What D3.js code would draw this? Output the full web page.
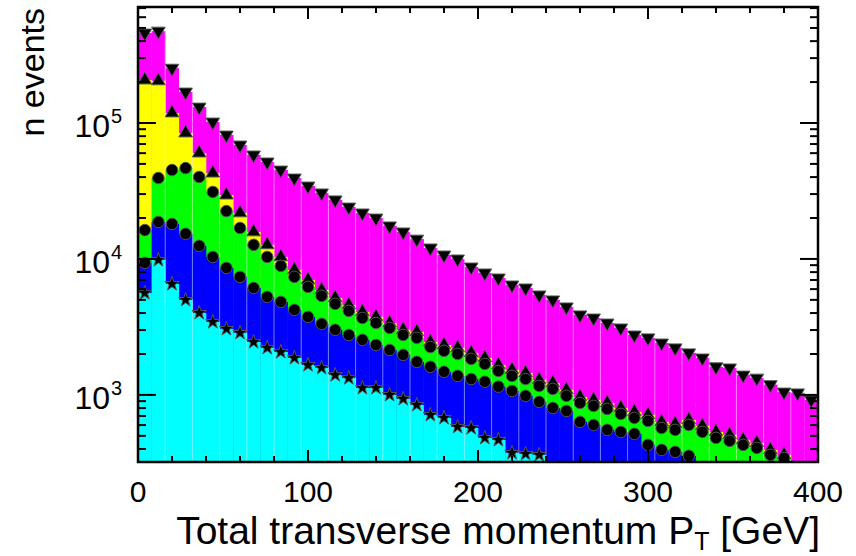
<!DOCTYPE html>
<html>
<head>
<meta charset="utf-8">
<script src="https://cdn.jsdelivr.net/npm/d3@7"></script>
<style>
    body { margin: 0; background: #fff; }
    #chart-area { width: 856px; height: 556px; }
    text { font-family: "Liberation Sans", Arial, Helvetica, sans-serif; fill: #000; }
</style>
</head>
<body>
<div id="chart-area"></div>
<script>
// bins of 8 GeV from 0 to 400
const binWidth = 8;
const binStarts = d3.range(0, 400, binWidth);

// counts per bin (null = below the visible range)
const magentaCounts = [459000, 474000, 253000, 169000, 131000, 101700, 81600, 68900, 58200, 51700,
    45100, 39400, 34400, 30600, 27200, 24100, 21800, 20000, 17500, 15800,
    14000, 12050, 10700, 10000, 8730, 7890, 7250, 6440, 6120, 5440,
    5000, 4440, 3880, 3680, 3380, 3110, 2760, 2630, 2410, 2220,
    2040, 1870, 1610, 1580, 1400, 1330, 1190, 1050, 1035, 920];
const yellowCounts = [207000, 204000, 118500, 84400, 60100, 42800, 29500, 21800, 15800, 12700,
    10350, 8300, 7010, 5920, 5170, 4590, 4080, 3750, 3380, 3010,
    2910, 2450, 2330, 2220, 2040, 1870, 1660, 1530, 1450, 1290,
    1225, 1090, 966, 920, 873, 802, 750, 713, 633, 612,
    655, 592, 534, 508, 467, 444, 394, 362, null, null];
const greenCounts = [16300, 39400, 45100, 46600, 40100, 31100, 22500, 16900, 12700, 10350,
    8890, 7380, 6230, 5350, 4670, 4150, 3680, 3380, 3110, 2760,
    2630, 2250, 2110, 2000, 1840, 1690, 1500, 1380, 1310, 1165,
    1107, 984, 873, 830, 789, 725, 678, 644, 571, 553,
    601, 534, 483, 459, 429, 407, 362, 344, null, null];
const blueCounts = [9350, 18700, 18100, 15300, 12480, 10350, 8590, 7380, 6120, 5260,
    4830, 4220, 3750, 3330, 3010, 2760, 2540, 2330, 2140, 1970,
    1750, 1610, 1480, 1380, 1310, 1250, 1150, 1070, 984, 889,
    802, 762, 633, 601, 553, 534, 517, 429, 394, 381,
    356, null, null, null, null, null, null, null, null, null];
const cyanCounts = [5620, 9840, 6550, 5000, 4010, 3440, 3060, 2860, 2450, 2220,
    2070, 1870, 1660, 1580, 1400, 1330, 1125, 1125, 1000, 935,
    844, 713, 678, 582, 571, 483, 467, 375, 369, 362,
    null, null, null, null, null, null, null, null, null, null,
    null, null, null, null, null, null, null, null, null, null];

// axis labels
const xTickLabels = [0, 100, 200, 300, 400];
const yDecades = [1000, 10000, 100000];
const xTitle = "Total transverse momentum P";
const xTitleSub = "T";
const xTitleUnit = " [GeV]";
const yTitle = "n events";


class PtHistVis {
    constructor(parentElement, series) {
        this.parentElement = parentElement;
        this.series = series;
        this.initVis();
    }

    initVis() {
        let vis = this;

        vis.margin = {top: 7, right: 38, bottom: 94, left: 138};
        vis.width = 856 - vis.margin.left - vis.margin.right;
        vis.height = 556 - vis.margin.top - vis.margin.bottom;

        vis.svg = d3.select("#" + vis.parentElement).append("svg")
            .attr("width", 856)
            .attr("height", 556)
            .append("g")
            .attr("transform", `translate(${vis.margin.left}, ${vis.margin.top})`);

        vis.x = d3.scaleLinear().domain([0, 400]).range([0, vis.width]);
        vis.y = d3.scaleLog().domain([321, 713000]).range([vis.height, 0]);

        vis.svg.append("clipPath").attr("id", "plot-clip")
            .append("rect")
            .attr("width", vis.width)
            .attr("height", vis.height);

        vis.plot = vis.svg.append("g").attr("clip-path", "url(#plot-clip)");

        vis.wrangleData();
    }

    wrangleData() {
        let vis = this;

        // one record per bin and series, skipping empty ones
        vis.bins = vis.series.map(s => ({
            ...s,
            bins: binStarts.map((lo, i) => ({lo: lo, hi: lo + binWidth, value: s.values[i]}))
                .filter(d => d.value !== null)
        }));

        vis.updateVis();
    }

    updateVis() {
        let vis = this;

        // filled histograms, largest first
        vis.bins.forEach(s => {
            vis.plot.append("g")
                .selectAll("rect")
                .data(s.bins)
                .enter().append("rect")
                .attr("x", d => vis.x(d.lo))
                .attr("width", d => vis.x(d.hi) - vis.x(d.lo) + 0.3)
                .attr("y", d => vis.y(d.value))
                .attr("height", d => vis.height - vis.y(d.value))
                .attr("fill", s.color);
        });

        // faint light seams in the fill
        vis.plot.append("g")
            .selectAll("line")
            .data(d3.range(16, 400, 16))
            .enter().append("line")
            .attr("x1", d => vis.x(d))
            .attr("x2", d => vis.x(d))
            .attr("y1", 0)
            .attr("y2", vis.height)
            .attr("stroke", "#fff")
            .attr("stroke-opacity", 0.45)
            .attr("stroke-width", 1);

        // markers at bin centres
        vis.bins.forEach(s => {
            let symbol = d3.symbol().type(s.symbol).size(s.size);
            vis.plot.append("g")
                .selectAll("path")
                .data(s.bins)
                .enter().append("path")
                .attr("d", symbol)
                .attr("transform", d => `translate(${vis.x((d.lo + d.hi) / 2)}, ${vis.y(d.value)}) rotate(${s.rotate})`)
                .attr("fill", "#000")
                .attr("stroke", "#555")
                .attr("stroke-width", 1);
        });

        vis.drawAxes();
    }

    drawAxes() {
        let vis = this;
        let axes = vis.svg.append("g").attr("class", "axes");

        // x ticks, inward on bottom and top
        let xMinor = d3.range(0, 401, 20);
        xMinor.forEach(v => {
            let len = v % 100 === 0 ? 12 : 6;
            let px = vis.x(v);
            axes.append("line").attr("x1", px).attr("x2", px)
                .attr("y1", vis.height).attr("y2", vis.height - len)
                .attr("stroke", "#000").attr("stroke-width", 2);
            axes.append("line").attr("x1", px).attr("x2", px)
                .attr("y1", 0).attr("y2", len)
                .attr("stroke", "#000").attr("stroke-width", 2);
        });

        // y ticks, inward on left and right
        let [lo, hi] = vis.y.domain();
        let yTicks = [];
        [100, 1000, 10000, 100000].forEach(dec => {
            for (let m = 1; m <= 9; m++) {
                let v = dec * m;
                if (v >= lo && v <= hi) yTicks.push({v: v, major: m === 1});
            }
        });
        yTicks.forEach(t => {
            let len = t.major ? 18 : 8;
            let py = vis.y(t.v);
            axes.append("line").attr("x1", 0).attr("x2", len)
                .attr("y1", py).attr("y2", py)
                .attr("stroke", "#000").attr("stroke-width", 2);
            axes.append("line").attr("x1", vis.width).attr("x2", vis.width - len)
                .attr("y1", py).attr("y2", py)
                .attr("stroke", "#000").attr("stroke-width", 2);
        });

        // frame
        axes.append("rect")
            .attr("width", vis.width)
            .attr("height", vis.height)
            .attr("fill", "none")
            .attr("stroke", "#000")
            .attr("stroke-width", 2.5);

        // x tick labels
        axes.selectAll(".x-label")
            .data(xTickLabels)
            .enter().append("text")
            .attr("class", "x-label")
            .attr("x", d => vis.x(d))
            .attr("y", vis.height + 40)
            .attr("text-anchor", "middle")
            .style("font-size", "30px")
            .text(d => d);

        // y tick labels as 10^n
        yDecades.forEach(d => {
            let g = axes.append("g")
                .attr("transform", `translate(-28, ${vis.y(d) + 14})`);
            g.append("text")
                .attr("text-anchor", "end")
                .style("font-size", "32px")
                .text("10");
            g.append("text")
                .attr("x", 1)
                .attr("y", -14)
                .style("font-size", "20px")
                .text(Math.round(Math.log10(d)));
        });

        // x title
        let xt = axes.append("text")
            .attr("x", vis.width + 2)
            .attr("y", vis.height + 82)
            .attr("text-anchor", "end")
            .style("font-size", "39px");
        xt.append("tspan").text(xTitle);
        xt.append("tspan").attr("dy", 6).style("font-size", "25px").text(xTitleSub);
        xt.append("tspan").attr("dy", -6).text(xTitleUnit);

        // y title
        axes.append("text")
            .attr("transform", `translate(${-94}, 1) rotate(-90)`)
            .attr("text-anchor", "end")
            .style("font-size", "34px")
            .text(yTitle);
    }
}

let histSeries = [
    {name: "all", values: magentaCounts, color: "#ff00ff", symbol: d3.symbolTriangle, rotate: 180, size: 80},
    {name: "yellow", values: yellowCounts, color: "#ffff00", symbol: d3.symbolTriangle, rotate: 0, size: 80},
    {name: "green", values: greenCounts, color: "#00ff00", symbol: d3.symbolCircle, rotate: 0, size: 105},
    {name: "blue", values: blueCounts, color: "#0000ff", symbol: d3.symbolCircle, rotate: 0, size: 105},
    {name: "cyan", values: cyanCounts, color: "#00ffff", symbol: d3.symbolStar, rotate: 0, size: 65}
];

new PtHistVis("chart-area", histSeries);
</script>
</body>
</html>
